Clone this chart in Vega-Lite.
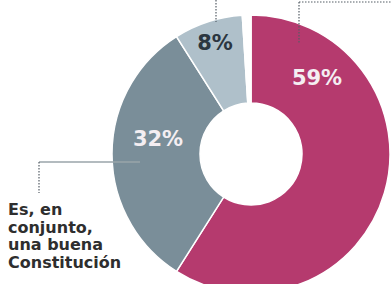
{
  "$schema": "https://vega.github.io/schema/vega-lite/v6.json",
  "width": 391,
  "height": 284,
  "padding": 0,
  "autosize": "none",
  "background": "white",
  "config": {"view": {"stroke": null}},
  "datasets": {
    "pie": [
      {"cat": "Otra", "value": 59, "ord": 1},
      {"cat": "Es, en conjunto, una buena Constitución", "value": 32, "ord": 2},
      {"cat": "Otra2", "value": 8, "ord": 3},
      {"cat": "NS/NC", "value": 1, "ord": 4}
    ],
    "pctWhite": [
      {"x": 317, "y": 79, "t": "59%"},
      {"x": 158, "y": 140, "t": "32%"}
    ],
    "pctDark": [
      {"x": 215, "y": 44, "t": "8%"}
    ],
    "para": [
      {"x": 8, "y": 202, "t": "Es, en\nconjunto,\nuna buena\nConstitución"}
    ],
    "solidLines": [
      {"x": 39, "y": 162, "x2": 140, "y2": 162}
    ],
    "dottedLines": [
      {"x": 39, "y": 162, "x2": 39, "y2": 193},
      {"x": 216, "y": 0, "x2": 216, "y2": 22},
      {"x": 299, "y": 2, "x2": 299, "y2": 43},
      {"x": 299, "y": 2, "x2": 391, "y2": 2}
    ]
  },
  "layer": [
    {
      "data": {"name": "pie"},
      "mark": {"type": "arc", "radius": 139, "innerRadius": 51, "stroke": "white", "strokeWidth": 1.5},
      "encoding": {
        "theta": {"field": "value", "type": "quantitative", "stack": true},
        "order": {"field": "ord", "type": "quantitative"},
        "color": {
          "field": "cat", "type": "nominal", "legend": null,
          "scale": {
            "domain": ["Otra", "Es, en conjunto, una buena Constitución", "Otra2", "NS/NC"],
            "range": ["#b53a6e", "#7a8e99", "#afc0ca", "#ffffff"]
          }
        },
        "x": {"datum": 251, "type": "quantitative", "scale": {"domain": [0, 391], "nice": false, "zero": false}, "axis": null},
        "y": {"datum": 154, "type": "quantitative", "scale": {"domain": [0, 284], "nice": false, "zero": false, "reverse": true}, "axis": null}
      }
    },
    {
      "data": {"name": "solidLines"},
      "mark": {"type": "rule", "stroke": "#9aa4aa", "strokeWidth": 1.5},
      "encoding": {
        "x": {"field": "x", "type": "quantitative", "scale": {"domain": [0, 391], "nice": false, "zero": false}, "axis": null},
        "y": {"field": "y", "type": "quantitative", "scale": {"domain": [0, 284], "nice": false, "zero": false, "reverse": true}, "axis": null},
        "x2": {"field": "x2"},
        "y2": {"field": "y2"}
      }
    },
    {
      "data": {"name": "dottedLines"},
      "mark": {"type": "rule", "stroke": "#555e66", "strokeWidth": 1.2, "strokeDash": [1.5, 1.5]},
      "encoding": {
        "x": {"field": "x", "type": "quantitative", "scale": {"domain": [0, 391], "nice": false, "zero": false}, "axis": null},
        "y": {"field": "y", "type": "quantitative", "scale": {"domain": [0, 284], "nice": false, "zero": false, "reverse": true}, "axis": null},
        "x2": {"field": "x2"},
        "y2": {"field": "y2"}
      }
    },
    {
      "data": {"name": "pctWhite"},
      "mark": {"type": "text", "font": "DejaVu Sans", "fontWeight": "bold", "fontSize": 21, "color": "#f4eef2", "align": "center", "baseline": "middle"},
      "encoding": {
        "x": {"field": "x", "type": "quantitative", "scale": {"domain": [0, 391], "nice": false, "zero": false}, "axis": null},
        "y": {"field": "y", "type": "quantitative", "scale": {"domain": [0, 284], "nice": false, "zero": false, "reverse": true}, "axis": null},
        "text": {"field": "t"}
      }
    },
    {
      "data": {"name": "pctDark"},
      "mark": {"type": "text", "font": "DejaVu Sans", "fontWeight": "bold", "fontSize": 21, "color": "#2b3640", "align": "center", "baseline": "middle"},
      "encoding": {
        "x": {"field": "x", "type": "quantitative", "scale": {"domain": [0, 391], "nice": false, "zero": false}, "axis": null},
        "y": {"field": "y", "type": "quantitative", "scale": {"domain": [0, 284], "nice": false, "zero": false, "reverse": true}, "axis": null},
        "text": {"field": "t"}
      }
    },
    {
      "data": {"name": "para"},
      "mark": {"type": "text", "font": "DejaVu Sans", "fontWeight": "bold", "fontSize": 16, "lineHeight": 17.5, "lineBreak": "\n", "color": "#2e2e2e", "align": "left", "baseline": "top"},
      "encoding": {
        "x": {"field": "x", "type": "quantitative", "scale": {"domain": [0, 391], "nice": false, "zero": false}, "axis": null},
        "y": {"field": "y", "type": "quantitative", "scale": {"domain": [0, 284], "nice": false, "zero": false, "reverse": true}, "axis": null},
        "text": {"field": "t"}
      }
    }
  ]
}
